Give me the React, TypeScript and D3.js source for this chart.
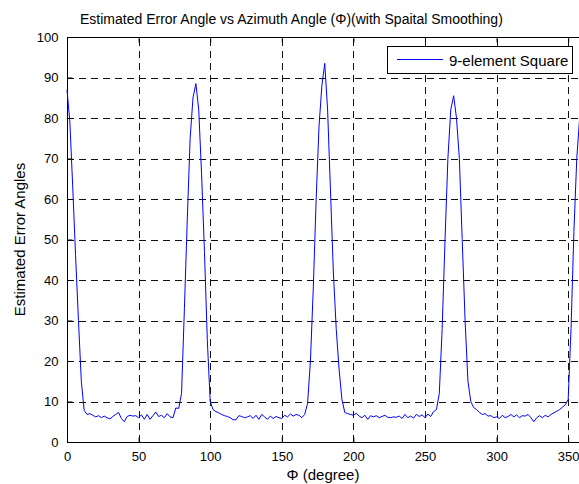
import { useRef, useEffect } from "react";
import * as d3 from "d3";

// azimuth sampled every 2 degrees, 0..360
const azimuth = d3.range(0, 361, 2);

const errorAngle = [
  87, 79, 63, 46, 30, 15, 7.8, 6.8, 7.0, 6.6,
  6.2, 6.5, 6.0, 6.4, 6.0, 5.7, 6.3, 6.8, 7.3, 5.8,
  5.0, 6.3, 6.6, 6.4, 6.5, 6.0, 6.7, 5.6, 6.8, 5.6,
  6.5, 7.4, 6.3, 6.6, 6.0, 7.0, 6.2, 6.0, 8.4, 8.3,
  12, 33, 55, 75, 85, 88.5, 82, 66, 47, 25,
  10, 8, 7.5, 7.2, 6.8, 6.5, 6.3, 6.0, 5.5, 5.5,
  6.5, 6.3, 6.0, 6.2, 6.5, 5.8, 6.6, 5.6, 6.8, 6.2,
  5.6, 6.4, 5.8, 6.3, 6.0, 5.8, 6.6, 6.2, 6.9, 6.4,
  6.8, 6.6, 6.0, 6.8, 9.5, 20, 38, 60, 78, 88,
  93.5, 82, 62, 42, 28, 18, 10.5, 7.3, 7.0, 6.8,
  6.6, 7.1, 6.4, 6.0, 6.6, 5.6, 6.5, 6.2, 6.5, 6.0,
  6.3, 6.6, 6.1, 6.0, 6.2, 6.1, 6.4, 5.8, 6.8, 6.0,
  6.4, 5.9, 6.8, 6.3, 6.7, 6.0, 6.9, 6.3, 7.5, 8,
  12, 28, 50, 70, 82, 85.5, 80, 70, 50, 30,
  15, 10, 8.5, 8.0, 7.3, 6.8, 7.0, 6.4, 6.5, 6.0,
  6.2, 5.8, 6.6, 6.0, 6.3, 6.8, 6.2, 6.7, 6.0, 6.5,
  6.4, 6.8, 6.0, 5.0, 6.0, 6.5, 6.0, 6.6, 6.2, 6.8,
  7.2, 7.6, 8.0, 8.6, 9.2, 10.5, 28, 52, 70, 80,
  87,
];

const xTicks = [0, 50, 100, 150, 200, 250, 300, 350];
const yTicks = [0, 10, 20, 30, 40, 50, 60, 70, 80, 90, 100];

const title = "Estimated Error Angle vs Azimuth Angle (\u03A6)(with Spaital Smoothing)";
const xLabel = "\u03A6 (degree)";
const yLabel = "Estimated Error Angles";
const seriesName = "9-element Square";

export default function App() {
  const ref = useRef<SVGSVGElement>(null);

  useEffect(() => {
    const width = 579;
    const height = 484;
    const m = { left: 67, top: 37, right: 582.5, bottom: 442 };

    const svg = d3.select(ref.current);
    svg.selectAll("*").remove();
    svg
      .attr("width", width)
      .attr("height", height)
      .attr("font-family", "'Liberation Sans', Arial, sans-serif")
      .attr("font-size", 13);

    svg.append("rect").attr("width", width).attr("height", height).attr("fill", "#fff");

    const x = d3.scaleLinear().domain([0, 360]).range([m.left, m.right]);
    const y = d3.scaleLinear().domain([0, 100]).range([m.bottom, m.top]);

    // grid
    const grid = svg.append("g").attr("stroke", "#111").attr("stroke-width", 1).attr("stroke-dasharray", "7,5");
    grid
      .selectAll("line.v")
      .data(xTicks.slice(1))
      .join("line")
      .attr("x1", (d) => Math.round(x(d)) + 0.5)
      .attr("x2", (d) => Math.round(x(d)) + 0.5)
      .attr("y1", m.bottom)
      .attr("y2", m.top);
    grid
      .selectAll("line.h")
      .data(yTicks.slice(1, -1))
      .join("line")
      .attr("x1", m.left)
      .attr("x2", m.right)
      .attr("y1", (d) => Math.round(y(d)) + 0.5)
      .attr("y2", (d) => Math.round(y(d)) + 0.5);

    // axes box
    svg
      .append("rect")
      .attr("x", m.left + 0.5)
      .attr("y", m.top + 0.5)
      .attr("width", m.right - m.left)
      .attr("height", m.bottom - m.top)
      .attr("fill", "none")
      .attr("stroke", "#000")
      .attr("stroke-width", 1);

    // bottom / top axes, ticks inside
    const xb = svg
      .append("g")
      .attr("transform", `translate(0,${m.bottom + 0.5})`)
      .call(d3.axisBottom(x).tickValues(xTicks).tickSizeInner(-5).tickSizeOuter(0).tickPadding(9));
    xb.select(".domain").remove();
    xb.selectAll("text").attr("font-size", 13).attr("fill", "#000");
    const xt = svg
      .append("g")
      .attr("transform", `translate(0,${m.top + 0.5})`)
      .call(d3.axisTop(x).tickValues(xTicks).tickSizeInner(-5).tickSizeOuter(0).tickFormat(() => ""));
    xt.select(".domain").remove();

    const yl = svg
      .append("g")
      .attr("transform", `translate(${m.left + 0.5},0)`)
      .call(d3.axisLeft(y).tickValues(yTicks).tickSizeInner(-5).tickSizeOuter(0).tickPadding(9));
    yl.select(".domain").remove();
    yl.selectAll("text").attr("font-size", 13).attr("fill", "#000");
    svg.selectAll(".tick line").attr("stroke", "#000");

    // data line
    const line = d3
      .line<number>()
      .x((_, i) => x(azimuth[i]))
      .y((d) => y(d));
    svg
      .append("path")
      .datum(errorAngle)
      .attr("d", line)
      .attr("fill", "none")
      .attr("stroke", "#0000ff")
      .attr("stroke-width", 1);

    // legend
    const lg = svg.append("g");
    lg.append("rect")
      .attr("x", 387.5)
      .attr("y", 46.5)
      .attr("width", 185)
      .attr("height", 27)
      .attr("fill", "#fff")
      .attr("stroke", "#000");
    lg.append("line")
      .attr("x1", 397)
      .attr("x2", 443)
      .attr("y1", 59.5)
      .attr("y2", 59.5)
      .attr("stroke", "#0000ff");
    lg.append("text")
      .attr("x", 449)
      .attr("y", 65.5)
      .attr("font-size", 15)
      .attr("fill", "#000")
      .text(seriesName);

    // titles
    svg.append("text").attr("x", 80).attr("y", 24).attr("font-size", 14).attr("fill", "#000").text(title);
    svg
      .append("text")
      .attr("x", 323)
      .attr("y", 480)
      .attr("text-anchor", "middle")
      .attr("font-size", 15)
      .attr("fill", "#000")
      .text(xLabel);
    svg
      .append("text")
      .attr("transform", `translate(25,${(m.top + m.bottom) / 2}) rotate(-90)`)
      .attr("text-anchor", "middle")
      .attr("font-size", 15)
      .attr("fill", "#000")
      .text(yLabel);
  }, []);

  return (
    <div style={{ position: "absolute", left: 0, top: 0 }}>
      <svg ref={ref} style={{ display: "block" }}></svg>
    </div>
  );
}
